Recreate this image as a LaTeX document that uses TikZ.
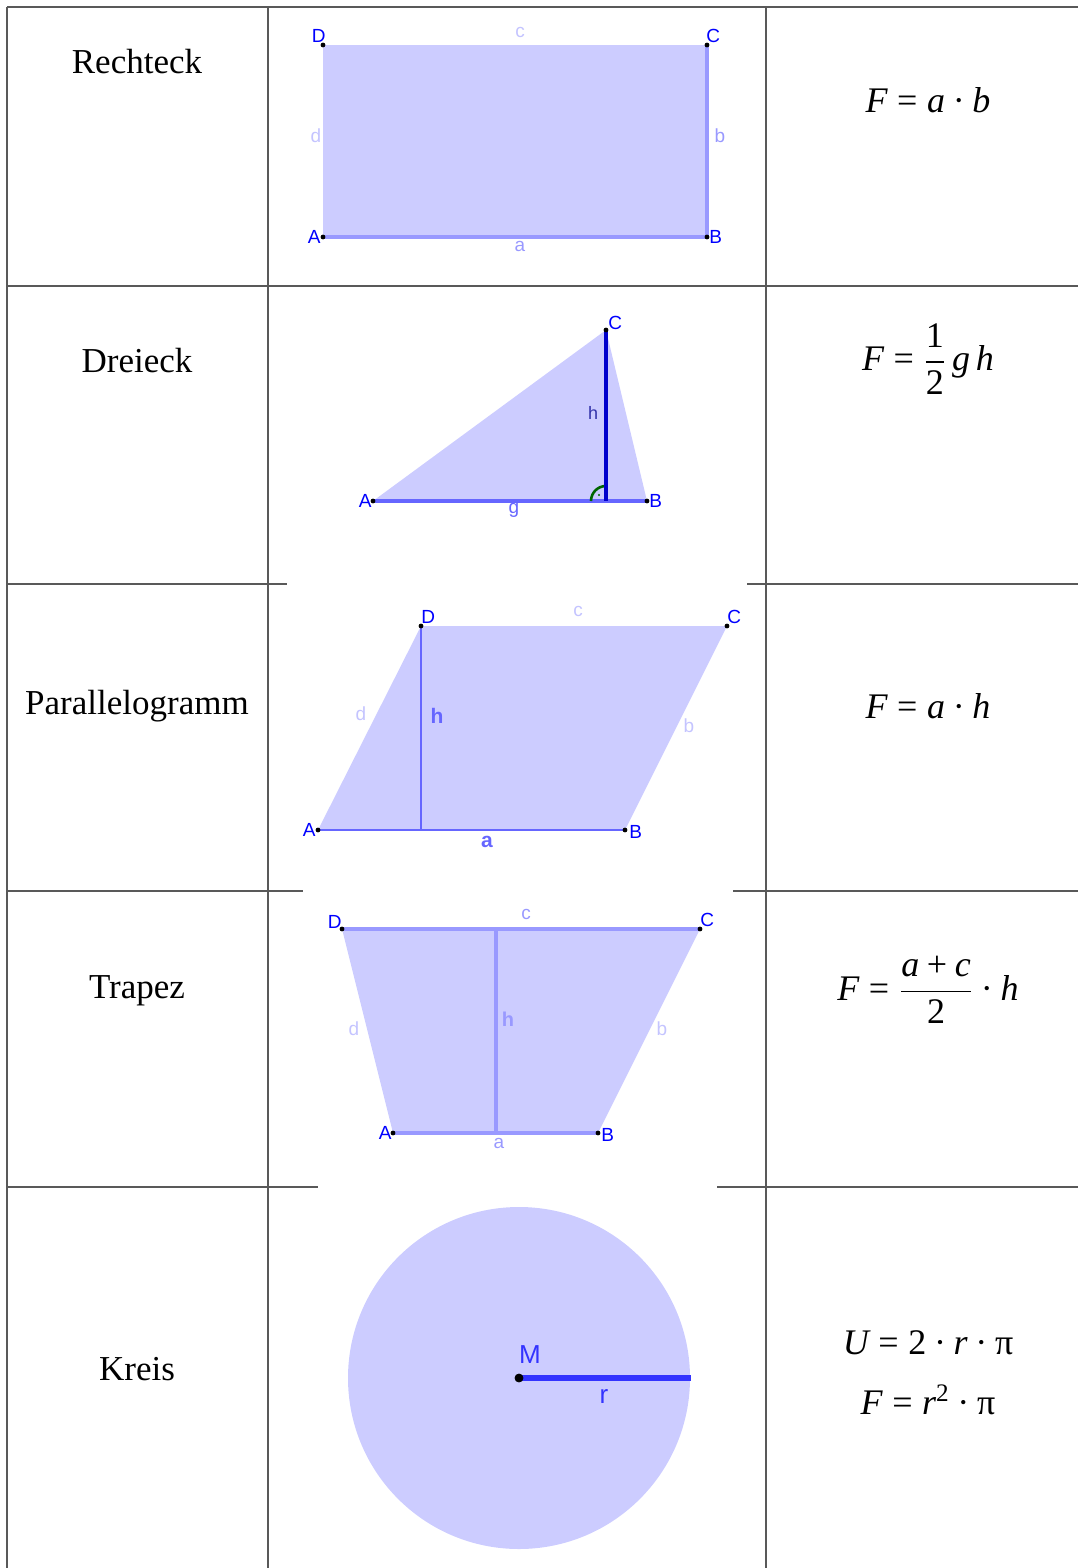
\documentclass[tikz,border=0pt]{standalone}
\usepackage{amsmath}
\usepackage{fontspec}
\setmainfont{Liberation Serif}
\newfontfamily\geofont{Liberation Sans}
\usetikzlibrary{positioning}

\definecolor{geofill}{HTML}{CCCCFF}
\definecolor{geoblue}{HTML}{0000FF}
\definecolor{geofaint}{HTML}{C4C4FF}
\definecolor{geoside}{HTML}{9999FF}
\definecolor{geomid}{HTML}{6666FF}
\definecolor{geodark}{HTML}{0000CC}
\definecolor{geoh}{HTML}{3333AA}
\definecolor{georad}{HTML}{3333FF}
\definecolor{rightang}{HTML}{006600}

% formula pieces in the Times-like text font
\newcommand{\mv}[1]{\text{\itshape #1}}
\newcommand{\mn}[1]{\text{#1}}
\newcommand{\meq}{\mathrel{\text{=}}}
\newcommand{\mplus}{\mathbin{\text{+}}}
\newcommand{\mdot}{\mathbin{\text{·}}}

\begin{document}
\begin{tikzpicture}[
        x=0.5pt, y=-0.5pt,
        every node/.style={inner sep=0pt},
        grid/.style={draw=black!65, line width=0.6pt},
        cellname/.style={font=\fontsize{17.5}{21}\selectfont},
        formula/.style={font=\fontsize{18}{22}\selectfont},
        face/.style={fill=geofill},
        pt/.style={circle, fill=black, inner sep=0pt, minimum size=2.4pt},
        ptname/.style={text=geoblue, font=\geofont\fontsize{9.5}{11}\selectfont},
        faint/.style={text=geofaint, font=\geofont\fontsize{9.5}{11}\selectfont},
        side/.style={text=geoside, font=\geofont\fontsize{9.5}{11}\selectfont},
        boldside/.style={text=geomid, font=\geofont\bfseries\fontsize{10.5}{12}\selectfont}
    ]
    \useasboundingbox (0,0) rectangle (1078,1568);

    % Table
    \draw[grid] (7,7) -- (1078,7);
    \draw[grid] (7,286) -- (1078,286);
    \draw[grid] (7,584) -- (287,584);
    \draw[grid] (747,584) -- (1078,584);
    \draw[grid] (7,891) -- (303,891);
    \draw[grid] (733,891) -- (1078,891);
    \draw[grid] (7,1187) -- (318,1187);
    \draw[grid] (717,1187) -- (1078,1187);
    \draw[grid, line width=0.9pt] (7,7) -- (7,1568);
    \draw[grid] (268,7) -- (268,1568);
    \draw[grid] (766,7) -- (766,1568);

    % Names and formulas
    \node[cellname] (nRechteck) at (137,62) {Rechteck};
    \node[cellname] (nDreieck) at (137,361) {Dreieck};
    \node[cellname] (nParallel) at (137,706) {Parallelogramm};
    \node[cellname] (nTrapez) at (137,991) {Trapez};
    \node[cellname] (nKreis) at (137,1369) {Kreis};

    \node[formula] (fRechteck) at (928,100) {$\mv{F} \meq \mv{a}\mdot\mv{b}$};
    \node[formula] (fDreieck) at (928,359) {$\mv{F} \meq \dfrac{\mn{1}}{\mn{2}}\,\mv{g}\,\mv{h}$};
    \node[formula] (fParallel) at (928,706) {$\mv{F} \meq \mv{a}\mdot\mv{h}$};
    \node[formula] (fTrapez) at (928,990) {$\mv{F} \meq \dfrac{\mv{a}\mplus\mv{c}}{\mn{2}}\mdot\mv{h}$};
    \node[formula] (fKreisU) at (928,1343) {$\mv{U} \meq \mn{2}\mdot\mv{r}\mdot\mn{π}$};
    \node[formula] (fKreisF) at (928,1400) {$\mv{F} \meq \mv{r}^{\mn{2}}\mdot\mn{π}$};

    % Rechteck
    \coordinate (rA) at (323,237);
    \coordinate (rB) at (707,237);
    \coordinate (rC) at (707,45);
    \coordinate (rD) at (323,45);
    \fill[face] (rA) -- (rB) -- (rC) -- (rD) -- cycle;
    \draw[geoside, line width=1.6pt] (rA) -- (rB) -- (rC);
    \foreach \p in {rA,rB,rC,rD} \node[pt] at (\p) {};
    \node[ptname, above left=1pt and -1.5pt of rD] (lrD) {D};
    \node[ptname, above right=1pt and -0.5pt of rC] (lrC) {C};
    \node[ptname, left=1pt of rA] (lrA) {A};
    \node[ptname, right=1pt of rB] (lrB) {B};
    \node[faint] (lrc) at (520,32) {c};
    \node[faint] (lrd) at (316,136) {d};
    \node[side] (lrb) at (720,136) {b};
    \node[side] (lra) at (520,246) {a};

    % Dreieck
    \coordinate (tA) at (373,501);
    \coordinate (tB) at (647,501);
    \coordinate (tC) at (606,330);
    \coordinate (tF) at (606,501);
    \fill[face] (tA) -- (tB) -- (tC) -- cycle;
    \draw[geomid, line width=2.2pt] (tA) -- (tB);
    \draw[rightang, line width=1.3pt] (591,501) arc (180:270:15);
    \node[circle, fill=rightang, minimum size=1.2pt] (tDot) at (599,495) {};
    \draw[geodark, line width=1.6pt] (tC) -- (tF);
    \foreach \p in {tA,tB,tC} \node[pt] at (\p) {};
    \node[ptname, above right=0pt and 1pt of tC] (ltC) {C};
    \node[ptname, left=0.5pt of tA] (ltA) {A};
    \node[ptname, right=1pt of tB] (ltB) {B};
    \node[text=geoh, font=\geofont\fontsize{9}{11}\selectfont] (lth) at (593,413) {h};
    \node[text=geomid, font=\geofont\fontsize{9.5}{11}\selectfont] (ltg) at (514,510) {g};

    % Parallelogramm
    \coordinate (pA) at (318,830);
    \coordinate (pB) at (625,830);
    \coordinate (pC) at (727,626);
    \coordinate (pD) at (421,626);
    \coordinate (pF) at (421,830);
    \fill[face] (pA) -- (pB) -- (pC) -- (pD) -- cycle;
    \draw[geomid, line width=1.3pt] (pA) -- (pB);
    \draw[geomid, line width=1.3pt] (pD) -- (pF);
    \foreach \p in {pA,pB,pC,pD} \node[pt] at (\p) {};
    \node[ptname, above right=1pt and 0pt of pD] (lpD) {D};
    \node[ptname, above right=1pt and 0pt of pC] (lpC) {C};
    \node[ptname, left=1pt of pA] (lpA) {A};
    \node[ptname, right=2pt of pB, yshift=-1pt] (lpB) {B};
    \node[faint] (lpc) at (578,611) {c};
    \node[faint] (lpd) at (361,714) {d};
    \node[boldside] (lph) at (437,716) {h};
    \node[faint] (lpb) at (689,726) {b};
    \node[boldside] (lpa) at (487,842) {a};

    % Trapez
    \coordinate (zA) at (393,1133);
    \coordinate (zB) at (598,1133);
    \coordinate (zC) at (700,929);
    \coordinate (zD) at (342,929);
    \coordinate (zH) at (496,929);
    \coordinate (zF) at (496,1133);
    \fill[face] (zA) -- (zB) -- (zC) -- (zD) -- cycle;
    \draw[geoside, line width=2pt] (zA) -- (zB);
    \draw[geoside, line width=2pt] (zD) -- (zC);
    \draw[geoside, line width=2pt] (zH) -- (zF);
    \foreach \p in {zA,zB,zC,zD} \node[pt] at (\p) {};
    \node[ptname, above left=0pt and 0pt of zD] (lzD) {D};
    \node[ptname, above right=1pt and 0pt of zC] (lzC) {C};
    \node[ptname, left=0.5pt of zA] (lzA) {A};
    \node[ptname, right=1.5pt of zB, yshift=-1pt] (lzB) {B};
    \node[side] (lzc) at (526,914) {c};
    \node[faint] (lzd) at (354,1029) {d};
    \node[text=geoside, font=\geofont\bfseries\fontsize{10}{12}\selectfont] (lzh) at (508,1019) {h};
    \node[faint] (lzb) at (662,1029) {b};
    \node[side] (lza) at (499,1143) {a};

    % Kreis
    \coordinate (kM) at (519,1378);
    \coordinate (kR) at (691,1378);
    \fill[face] (kM) circle (171);
    \draw[georad, line width=2.6pt] (kM) -- (kR);
    \node[circle, draw=black, fill=black, minimum size=4pt] (kDot) at (kM) {};
    \node[text=georad, font=\geofont\fontsize{13}{15}\selectfont] (lkM) at (530,1355) {M};
    \node[text=georad, font=\geofont\fontsize{13}{15}\selectfont] (lkr) at (604,1396) {r};

\end{tikzpicture}
\end{document}
